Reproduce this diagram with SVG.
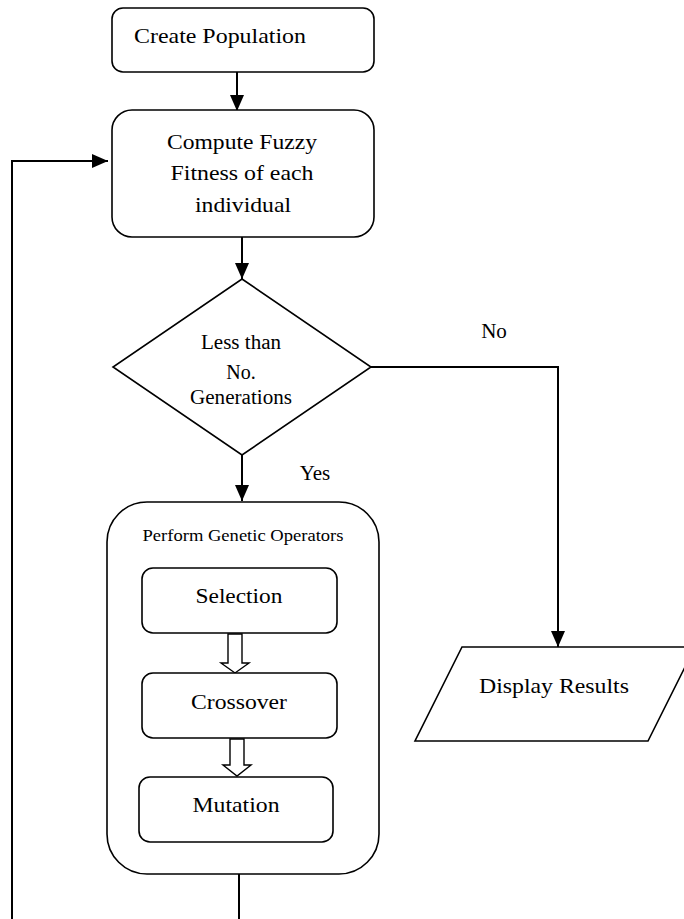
<svg xmlns="http://www.w3.org/2000/svg" width="684" height="919" viewBox="0 0 684 919">
<defs>
<marker id="ah" markerUnits="userSpaceOnUse" markerWidth="16" markerHeight="14" refX="16" refY="7" orient="auto">
<path d="M0,0 L16,7 L0,14 Z" fill="#000"/>
</marker>
<style>
.box{fill:#fff;stroke:#000;stroke-width:1.6}
.conn{fill:none;stroke:#000;stroke-width:2}
.t{font-family:'Liberation Serif',serif;fill:#000;text-anchor:middle}
.hol{fill:#fff;stroke:#000;stroke-width:1.4}
</style>
</defs>
<rect width="684" height="919" fill="#fff"/>

<g id="connectors">
<line class="conn" x1="237" y1="72" x2="237" y2="111" marker-end="url(#ah)"/>
<line class="conn" x1="242" y1="237" x2="242" y2="279" marker-end="url(#ah)"/>
<polyline class="conn" points="12,919 12,161 108,161" marker-end="url(#ah)"/>
<line class="conn" x1="239" y1="874" x2="239" y2="919"/>
<polyline class="conn" points="371,367 558,367 558,647" marker-end="url(#ah)"/>
<line class="conn" x1="242" y1="455" x2="242" y2="501" marker-end="url(#ah)"/>
<text class="t" font-family="Liberation Serif" x="494" y="338" font-size="21">No</text>
<text class="t" font-family="Liberation Serif" x="315" y="480" font-size="21">Yes</text>
</g>

<g id="create">
<rect class="box" x="112" y="8" width="262" height="64" rx="11"/>
<text class="t" font-family="Liberation Serif" x="220" y="43" font-size="22" textLength="172" lengthAdjust="spacingAndGlyphs">Create Population</text>
</g>

<g id="compute">
<rect class="box" x="112" y="110" width="262" height="127" rx="20"/>
<text class="t" font-family="Liberation Serif" x="242" y="149" font-size="22" textLength="150" lengthAdjust="spacingAndGlyphs">Compute Fuzzy</text>
<text class="t" font-family="Liberation Serif" x="242" y="180" font-size="22" textLength="143" lengthAdjust="spacingAndGlyphs">Fitness of each</text>
<text class="t" font-family="Liberation Serif" x="243" y="212" font-size="22" textLength="96" lengthAdjust="spacingAndGlyphs">individual</text>
</g>

<g id="decision">
<polygon class="box" points="242,279 371,367 242,455 113,367"/>
<text class="t" font-family="Liberation Serif" x="241" y="349" font-size="20" textLength="80" lengthAdjust="spacingAndGlyphs">Less than</text>
<text class="t" font-family="Liberation Serif" x="241" y="379" font-size="20">No.</text>
<text class="t" font-family="Liberation Serif" x="241" y="404" font-size="20" textLength="102" lengthAdjust="spacingAndGlyphs">Generations</text>
</g>

<g id="operators">
<rect class="box" x="107" y="502" width="272" height="372" rx="40"/>
<text class="t" font-family="Liberation Serif" x="243" y="541" font-size="17" textLength="201" lengthAdjust="spacingAndGlyphs">Perform Genetic Operators</text>
</g>

<g id="selection">
<rect class="box" x="142" y="568" width="195" height="65" rx="11"/>
<text class="t" font-family="Liberation Serif" x="239" y="603" font-size="22" textLength="87" lengthAdjust="spacingAndGlyphs">Selection</text>
</g>

<g id="arrow-sel-cross">
<polygon class="hol" points="228,634 242,634 242,663 249,663 235,673 221,663 228,663"/>
</g>

<g id="crossover">
<rect class="box" x="142" y="673" width="195" height="65" rx="11"/>
<text class="t" font-family="Liberation Serif" x="239" y="709" font-size="22" textLength="96" lengthAdjust="spacingAndGlyphs">Crossover</text>
</g>

<g id="arrow-cross-mut">
<polygon class="hol" points="230,739 244,739 244,765 251,765 237,776 223,765 230,765"/>
</g>

<g id="mutation">
<rect class="box" x="139" y="777" width="194" height="65" rx="11"/>
<text class="t" font-family="Liberation Serif" x="236" y="812" font-size="22" textLength="87" lengthAdjust="spacingAndGlyphs">Mutation</text>
</g>

<g id="display">
<polygon class="box" points="462,647 695,647 648,741 415,741"/>
<text class="t" font-family="Liberation Serif" x="554" y="693" font-size="22" textLength="150" lengthAdjust="spacingAndGlyphs">Display Results</text>
</g>
</svg>
